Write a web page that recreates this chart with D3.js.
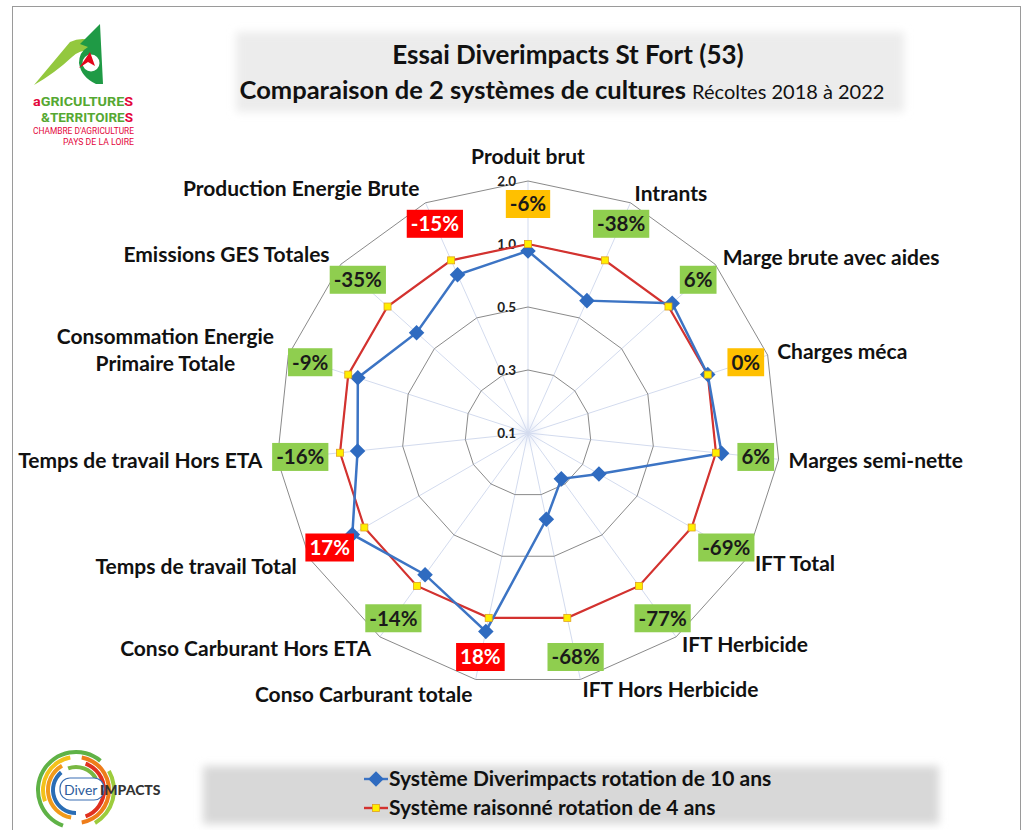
<!DOCTYPE html>
<html><head><meta charset="utf-8">
<script src="https://cdn.jsdelivr.net/npm/d3@7"></script>
<style>body{margin:0;background:#fff} svg{display:block}</style>
</head><body><svg id="c" width="1028" height="830"></svg>
<script>
// ---------- DATA ----------
const categories = ["Produit brut","Intrants","Marge brute avec aides","Charges méca","Marges semi-nette","IFT Total","IFT Herbicide","IFT Hors Herbicide","Conso Carburant totale","Conso Carburant Hors ETA","Temps de travail Total","Temps de travail Hors ETA","Consommation Energie\nPrimaire Totale","Emissions GES Totales","Production Energie Brute"];
const diverimpacts = [0.945,0.65,1.08,1.0,1.09,0.36,0.28,0.38,1.22,0.89,1.22,0.86,0.92,0.69,0.875];
const raisonne = [1,1,1,1,1,1,1,1,1,1,1,1,1,1,1];
const ecarts = ["-6%","-38%","6%","0%","6%","-69%","-77%","-68%","18%","-14%","17%","-16%","-9%","-35%","-15%"];
const appreciation = ["neutre","favorable","favorable","neutre","favorable","favorable","favorable","favorable","defavorable","favorable","defavorable","favorable","favorable","favorable","defavorable"];
const radialTicks = [0.1,0.3,0.5,1.0,2.0];
const tickLabels = ["0.1","0.3","0.5","1.0","2.0"];
const seriesNames = ["Système Diverimpacts rotation de 10 ans","Système raisonné rotation de 4 ans"];
const titleLine1 = "Essai Diverimpacts St Fort (53)";
const titleLine2a = "Comparaison de 2 systèmes de cultures";
const titleLine2b = "Récoltes 2018 à 2022";

// ---------- LAYOUT ----------
const svg = d3.select("#c");
const W = 1028, H = 830;
const cx = 528, cy = 433, R = 252;
const FONT = "Lato, 'Open Sans', sans-serif";
const NARROW = "'Liberation Sans Narrow','Roboto',sans-serif";
const blue = "#3c74c4", red = "#d3322f";
const boxColor = {neutre:"#ffc000", favorable:"#8fce4f", defavorable:"#ff0000"};
const boxText = {neutre:"#1a1a1a", favorable:"#1a1a1a", defavorable:"#ffffff"};

svg.append("rect").attr("width",W).attr("height",H).attr("fill","#fff");
const defs = svg.append("defs");
defs.append("filter").attr("id","soft").attr("x","-10%").attr("y","-30%").attr("width","120%").attr("height","160%")
  .append("feGaussianBlur").attr("stdDeviation",4);

// frame
svg.append("rect").attr("x",12.5).attr("y",6.5).attr("width",1008).attr("height",840)
  .attr("fill","none").attr("stroke","#9a9a9a").attr("stroke-width",1);

// title background
svg.append("rect").attr("x",236).attr("y",32).attr("width",668).attr("height",80)
  .attr("fill","#ececec").attr("filter","url(#soft)");

svg.append("text").attr("x",568).attr("y",64).attr("text-anchor","middle")
  .attr("font-family",FONT).attr("font-weight",700).attr("font-size",26).attr("fill","#111")
  .text(titleLine1);
const t2 = svg.append("text").attr("x",562).attr("y",99).attr("text-anchor","middle")
  .attr("font-family",FONT).attr("fill","#111");
t2.append("tspan").attr("font-weight",700).attr("font-size",25.5).text(titleLine2a + " ");
t2.append("tspan").attr("font-weight",400).attr("font-size",20).text(titleLine2b);

// ---------- SCALES ----------
const n = categories.length;
const rScale = d3.scaleLinear().domain(radialTicks)
  .range(radialTicks.map((d,i)=> i*R/(radialTicks.length-1)));
const aScale = d3.scaleLinear().domain([0,n]).range([0,2*Math.PI]);
const pt = (i, rad) => [cx + rad*Math.sin(aScale(i)), cy - rad*Math.cos(aScale(i))];

const g = svg.append("g").attr("transform",`translate(${cx},${cy})`);

// center glow
const rg = defs.append("radialGradient").attr("id","glow");
rg.append("stop").attr("offset","0%").attr("stop-color","#dfe6f7");
rg.append("stop").attr("offset","100%").attr("stop-color","#ffffff").attr("stop-opacity",0);
g.append("circle").attr("r",22).attr("fill","url(#glow)");

// spokes
g.selectAll("line.spoke").data(categories).join("line").attr("class","spoke")
  .attr("x1",0).attr("y1",0)
  .attr("x2",(d,i)=>R*Math.sin(aScale(i))).attr("y2",(d,i)=>-R*Math.cos(aScale(i)))
  .attr("stroke","#d3dbee").attr("stroke-width",1);

// ring polygons
const ringLine = d3.lineRadial().angle((d,i)=>aScale(i)).curve(d3.curveLinearClosed);
g.selectAll("path.ring").data(radialTicks.filter(t=>rScale(t)>0)).join("path").attr("class","ring")
  .attr("d",t=>ringLine.radius(()=>rScale(t))(categories))
  .attr("fill","none").attr("stroke","#8a8a8a").attr("stroke-width",1);

// tick labels
g.selectAll("text.tick").data(radialTicks).join("text").attr("class","tick")
  .attr("x",-12).attr("y",t=>-rScale(t)).attr("dy","0.35em").attr("text-anchor","end")
  .attr("font-family",FONT).attr("font-weight",700).attr("font-size",13.5).attr("fill","#222")
  .text((t,i)=>tickLabels[i]);

// series lines
const seriesLine = d3.lineRadial().angle((d,i)=>aScale(i)).radius(d=>rScale(d)).curve(d3.curveLinearClosed);
g.append("path").attr("d",seriesLine(raisonne)).attr("fill","none").attr("stroke",red).attr("stroke-width",2.2);
g.append("path").attr("d",seriesLine(diverimpacts)).attr("fill","none").attr("stroke",blue).attr("stroke-width",2.5);

// markers
g.selectAll("rect.dmk").data(diverimpacts).join("rect").attr("class","dmk")
  .attr("x",-5.5).attr("y",-5.5).attr("width",11).attr("height",11)
  .attr("transform",(d,i)=>`translate(${rScale(d)*Math.sin(aScale(i))},${-rScale(d)*Math.cos(aScale(i))}) rotate(45)`)
  .attr("fill","#2f6bc0");
g.selectAll("rect.rmk").data(raisonne).join("rect").attr("class","rmk")
  .attr("x",-3.5).attr("y",-3.5).attr("width",7).attr("height",7)
  .attr("transform",(d,i)=>`translate(${rScale(d)*Math.sin(aScale(i))},${-rScale(d)*Math.cos(aScale(i))})`)
  .attr("fill","#ffee00").attr("stroke","#e0a020").attr("stroke-width",0.8);

// category labels
const LFS = 21;
categories.forEach((c,i)=>{
  const a = aScale(i), s = Math.sin(a);
  const lines = c.split("\n");
  if (Math.abs(s) < 0.1) {
    const [x,y] = pt(i, R+24);
    svg.append("text").attr("x",x).attr("y",y).attr("text-anchor","middle").attr("dy","0.35em")
      .attr("font-family",FONT).attr("font-weight",700).attr("font-size",LFS).attr("fill","#111").text(c);
    return;
  }
  const [x,y] = pt(i, s>0 ? R+10 : R+15);
  const anchor = s>0 ? "start" : "end";
  const grp = svg.append("g");
  const lh = 27;
  const ts = lines.map((l,k)=> grp.append("text").attr("x",x).attr("y",y+(k-(lines.length-1)/2)*lh).attr("dy","0.35em")
      .attr("text-anchor",anchor).attr("font-family",FONT).attr("font-weight",700).attr("font-size",LFS).attr("fill","#111").text(l));
  if (lines.length>1) {
    const wmax = d3.max(ts, t=>t.node().getComputedTextLength());
    const mid = anchor==="end" ? x - wmax/2 : x + wmax/2;
    ts.forEach(t=>t.attr("x",mid).attr("text-anchor","middle"));
  }
});

// écart boxes
ecarts.forEach((e,i)=>{
  const [x,y] = pt(i, 229);
  const grp = svg.append("g");
  const t = grp.append("text").attr("x",x).attr("y",y).attr("dy","0.36em").attr("text-anchor","middle")
    .attr("font-family",FONT).attr("font-weight",700).attr("font-size",20.5)
    .attr("fill",boxText[appreciation[i]]).text(e);
  const w = t.node().getComputedTextLength() + 8;
  grp.insert("rect","text").attr("x",x-w/2).attr("y",y-14).attr("width",w).attr("height",28)
    .attr("fill",boxColor[appreciation[i]]);
});

// ---------- LEGEND ----------
svg.append("rect").attr("x",203).attr("y",766).attr("width",736).attr("height",58)
  .attr("fill","#d8d8d8").attr("filter","url(#soft)");
const legY = [779, 808];
seriesNames.forEach((s,k)=>{
  const y = legY[k];
  svg.append("line").attr("x1",364).attr("x2",388).attr("y1",y).attr("y2",y)
    .attr("stroke",k===0?blue:red).attr("stroke-width",2.4);
  if (k===0) {
    svg.append("rect").attr("x",-5.5).attr("y",-5.5).attr("width",11).attr("height",11)
      .attr("transform",`translate(376,${y}) rotate(45)`).attr("fill","#2f6bc0");
  } else {
    svg.append("rect").attr("x",372.5).attr("y",y-3.5).attr("width",7).attr("height",7)
      .attr("fill","#ffee00").attr("stroke","#e0a020").attr("stroke-width",0.8);
  }
  svg.append("text").attr("x",389).attr("y",y).attr("dy","0.35em")
    .attr("font-family",FONT).attr("font-weight",700).attr("font-size",21).attr("fill","#111").text(s);
});

// ---------- LOGOS ----------
const lg = svg.append("g");
lg.append("path").attr("d","M34,85 L70,42 Q80,37 90,40 L91,50 Q79,50 72,57 Q55,73 34,85 Z").attr("fill","#93c83e");
lg.append("path").attr("d","M100,24 L103,84 L96,84 Q81,77 79,63 Q79,52 88,47 L80,44 Z").attr("fill","#1f9a45");
lg.append("circle").attr("cx",91).attr("cy",63).attr("r",8.5).attr("fill","#fff");
lg.append("path").attr("d","M79,68 L90,52 L95,66 L88,62 Z").attr("fill","#e3061b");
lg.append("text").attr("x",33).attr("y",106).attr("font-family",NARROW).attr("font-size",13).attr("font-weight",700)
  .attr("textLength",100).attr("lengthAdjust","spacingAndGlyphs")
  .call(t=>{t.append("tspan").attr("fill","#e3063b").text("a");
            t.append("tspan").attr("fill","#55a832").text("GRICULTURE");
            t.append("tspan").attr("fill","#e3063b").text("S");});
lg.append("text").attr("x",41).attr("y",122).attr("font-family",NARROW).attr("font-size",13).attr("font-weight",700)
  .attr("textLength",92).attr("lengthAdjust","spacingAndGlyphs")
  .call(t=>{t.append("tspan").attr("fill","#55a832").text("&TERRITOIRE");
            t.append("tspan").attr("fill","#e3063b").text("S");});
lg.append("text").attr("x",33).attr("y",134).attr("font-family",NARROW).attr("font-size",9)
  .attr("textLength",101).attr("lengthAdjust","spacingAndGlyphs").attr("fill","#e3063b").text("CHAMBRE D'AGRICULTURE");
lg.append("text").attr("x",63).attr("y",145).attr("font-family",NARROW).attr("font-size",9)
  .attr("textLength",71).attr("lengthAdjust","spacingAndGlyphs").attr("fill","#e3063b").text("PAYS DE LA LOIRE");

// DiverIMPACTS logo
const dl = svg.append("g").attr("transform","translate(76,790)");
const arc = d3.arc();
const deg = d=>d*Math.PI/180;
[[40,36,-160,40,"#5fb246"],[40,36,60,150,"#9ccc3c"],[35,31,-110,-10,"#f3c21a"],[35,31,10,170,"#ee7d1a"],
 [30,26,20,160,"#e0301e"],[30,26,190,330,"#f19a1b"],[25,21,180,320,"#2a6db5"],[25,21,-20,60,"#79b842"]]
 .forEach(([ro,ri,a0,a1,c])=>dl.append("path").attr("d",arc({innerRadius:ri,outerRadius:ro,startAngle:deg(a0),endAngle:deg(a1)})).attr("fill",c));
dl.append("rect").attr("x",-16).attr("y",-12).attr("width",44).attr("height",22).attr("rx",10)
  .attr("fill","#fff").attr("stroke","#3a6fb3").attr("stroke-width",1.2);
dl.append("text").attr("x",-12).attr("y",5).attr("font-family",FONT).attr("font-size",14).attr("fill","#2d5c9c").text("Diver");
dl.append("text").attr("x",24).attr("y",5).attr("font-family",FONT).attr("font-weight",900).attr("font-size",14).attr("fill","#333").text("IMPACTS");
</script></body></html>
